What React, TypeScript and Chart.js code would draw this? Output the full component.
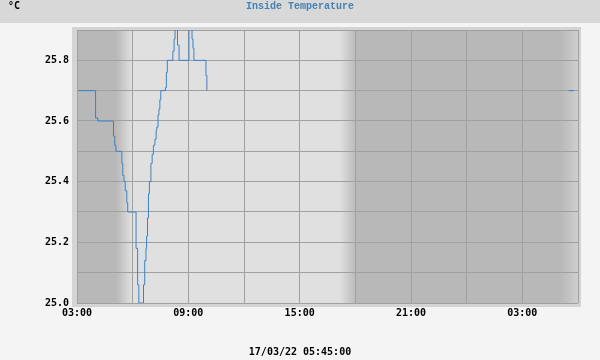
import React, { useEffect, useRef } from 'react';
import { Chart, registerables } from 'chart.js';

Chart.register(...registerables);

const TITLE = 'Inside Temperature';
const UNIT = '°C';
const STAMP = '17/03/22 05:45:00';
const START_TIME = '03:00';

// Inside temperature readings (time of change, value in °C); null = no data
const times = [
  '03:04', '04:00', '04:07', '04:58', '05:02', '05:06', '05:25', '05:28', '05:32', '05:36',
  '05:41', '05:44', '06:11', '06:16', '06:20', '06:35', '06:39', '06:43', '06:45', '06:48',
  '06:51', '06:54', '06:59', '07:03', '07:07', '07:12', '07:16', '07:18', '07:22', '07:25',
  '07:28', '07:31', '07:46', '07:49', '07:52', '08:10', '08:14', '08:17', '08:25', '08:30',
  '09:02', '09:12', '09:15', '09:18', '09:57', '10:00', '10:05', '05:30', '05:47',
];
const temps = [
  25.70, 25.61, 25.60, 25.55, 25.52, 25.50, 25.46, 25.42, 25.40, 25.37,
  25.33, 25.30, 25.18, 25.06, 25.00, 25.06, 25.14, 25.18, 25.22, 25.28,
  25.36, 25.40, 25.46, 25.49, 25.52, 25.54, 25.57, 25.58, 25.62, 25.64,
  25.67, 25.70, 25.71, 25.76, 25.80, 25.83, 25.87, 25.96, 25.85, 25.80,
  25.96, 25.87, 25.84, 25.80, 25.75, 25.70, null, 25.70, 25.70,
];

const xTickLabels = ['03:00', '09:00', '15:00', '21:00', '03:00'];
const yTickLabels = ['25.0', '25.2', '25.4', '25.6', '25.8'];
const X_SPAN_HOURS = 27;
const Y_MIN = 25.0;
const Y_MAX = 25.9;

// day/night shading transitions: [start, end, dayFraction at start, at end]
const shadeTimes = ['05:06', '05:58', '17:10', '18:05', '05:04', '06:40'];

const NIGHT = [184, 184, 184];
const DAY = [224, 224, 224];

function toMinutes(t: string) {
  const [h, m] = t.split(':').map(Number);
  return h * 60 + m;
}

// convert a sequence of clock times to hours since START_TIME, wrapping into next day
function toHours(list: string[]) {
  const start = toMinutes(START_TIME);
  let dayOffset = 0;
  let prev = -1;
  return list.map((t) => {
    let m = toMinutes(t) - start + dayOffset;
    if (m < prev) {
      dayOffset += 1440;
      m += 1440;
    }
    prev = m;
    return m / 60;
  });
}

function mix(f: number) {
  const c = NIGHT.map((n, i) => Math.round(n + (DAY[i] - n) * f));
  return `rgb(${c[0]},${c[1]},${c[2]})`;
}

const bgPlugin = {
  id: 'bgPlugin',
  beforeDraw(chart: any) {
    const { ctx, chartArea: a, width, height } = chart;
    const xs = chart.scales.x;
    ctx.save();
    ctx.fillStyle = '#f4f4f4';
    ctx.fillRect(0, 0, width, height);
    ctx.fillStyle = '#d8d8d8';
    ctx.fillRect(0, 0, width, 23);
    // frame
    ctx.fillStyle = '#d4d4d4';
    ctx.fillRect(a.left - 5, a.top - 3, a.right - a.left + 8, a.bottom - a.top + 7);
    // day/night shading
    const hrs = toHours(shadeTimes);
    const w = a.right - a.left;
    const g = ctx.createLinearGradient(a.left, 0, a.right, 0);
    const pos = (h: number) => Math.min(1, Math.max(0, (xs.getPixelForValue(h) - a.left) / w));
    const fracs = [0, 1, 1, 0, 0, 1];
    g.addColorStop(0, mix(0));
    hrs.forEach((h, i) => {
      const p = pos(h);
      let f = fracs[i];
      if (xs.getPixelForValue(h) > a.right) {
        // partial transition at the right edge
        const h0 = hrs[i - 1];
        const p0 = xs.getPixelForValue(h0);
        const p1 = xs.getPixelForValue(h);
        const t = (a.right - p0) / (p1 - p0);
        f = fracs[i - 1] + (fracs[i] - fracs[i - 1]) * t;
      }
      g.addColorStop(p, mix(f));
    });
    ctx.fillStyle = g;
    ctx.fillRect(a.left, a.top, w, a.bottom - a.top);
    ctx.restore();
  },
  afterDraw(chart: any) {
    const { ctx, width } = chart;
    ctx.save();
    ctx.textBaseline = 'middle';
    ctx.font = 'bold 10px "Liberation Mono"';
    ctx.fillStyle = '#4682b4';
    ctx.textAlign = 'center';
    ctx.fillText(TITLE, width / 2 + 0, 6);
    ctx.font = 'bold 10px "DejaVu Sans Mono"';
    ctx.fillStyle = '#000';
    ctx.textAlign = 'left';
    ctx.fillText(UNIT, 8, 6);
    ctx.textAlign = 'center';
    ctx.fillText(STAMP, width / 2, 352);
    ctx.restore();
  },
};

export default function App() {
  const ref = useRef<HTMLCanvasElement>(null);

  useEffect(() => {
    if (!ref.current) return;
    const xh = toHours(times);
    const points = xh.map((x, i) => ({ x, y: temps[i] }));
    const font = { family: '"DejaVu Sans Mono"', size: 10, weight: 'bold' as const };

    const chart = new Chart(ref.current, {
      type: 'line',
      data: {
        datasets: [
          {
            label: TITLE,
            data: points as any,
            borderColor: '#3b82c4',
            borderWidth: 1,
            pointRadius: 0,
            stepped: true,
            spanGaps: false,
            fill: false,
          },
        ],
      },
      plugins: [bgPlugin],
      options: {
        animation: false,
        responsive: false,
        devicePixelRatio: 1,
        layout: { padding: { top: 30, right: 22, left: 0, bottom: 0 } },
        plugins: {
          legend: { display: false },
          tooltip: { enabled: false },
          title: { display: false },
        },
        scales: {
          x: {
            type: 'linear',
            min: 0,
            max: X_SPAN_HOURS,
            afterFit: (s: any) => {
              s.height = 57;
            },
            grid: { color: '#a0a0a0', lineWidth: 1, drawTicks: false },
            border: { display: false },
            ticks: {
              stepSize: 3,
              autoSkip: false,
              maxRotation: 0,
              padding: 4,
              color: '#000',
              font,
              callback: (v: any) => {
                const n = Number(v);
                return n % 6 === 0 ? xTickLabels[n / 6] ?? '' : '';
              },
            },
          },
          y: {
            type: 'linear',
            min: Y_MIN,
            max: Y_MAX,
            afterFit: (s: any) => {
              s.width = 77;
            },
            grid: { color: '#a0a0a0', lineWidth: 1, drawTicks: false },
            border: { display: false },
            ticks: {
              stepSize: 0.1,
              autoSkip: false,
              padding: 8,
              color: '#000',
              font,
              callback: (v: any) => {
                const k = Math.round((Number(v) - Y_MIN) * 10);
                return k % 2 === 0 ? yTickLabels[k / 2] ?? '' : '';
              },
            },
          },
        },
      },
    });
    return () => chart.destroy();
  }, []);

  return (
    <div style={{ position: 'absolute', left: 0, top: 0, width: 600, height: 360 }}>
      <canvas ref={ref} width={600} height={360} />
    </div>
  );
}
